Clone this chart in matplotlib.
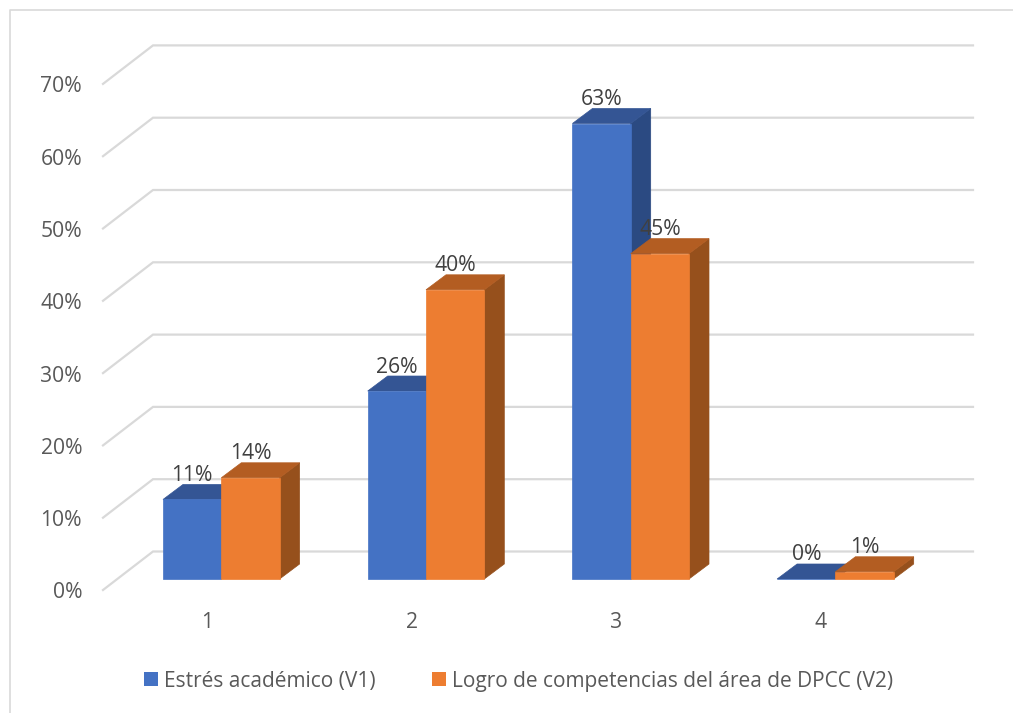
import matplotlib
matplotlib.use("Agg")
import matplotlib.pyplot as plt
from matplotlib.patches import Polygon, Patch
from matplotlib.lines import Line2D

categories = [1, 2, 3, 4]
series_names = ["Estrés académico (V1)", "Logro de competencias del área de DPCC (V2)"]
v1 = [11, 26, 63, 0]
v2 = [14, 40, 45, 1]
y_ticks = [0, 10, 20, 30, 40, 50, 60, 70]

W, H = 1013, 713
PX_X = 204.7      # pixels per category
PX_Y = 7.23       # pixels per percent
X0, Y0 = 221.3, 579.0  # pixel of category 1 centre / bar base
FS = 15.2

plt.rcParams['font.family'] = ['Open Sans', 'DejaVu Sans']
fig = plt.figure(figsize=(W / 100, H / 100), dpi=100, facecolor='white')
ax = fig.add_axes([0, 0, 1, 1])
ax.set_xlim(1 + (0 - X0) / PX_X, 1 + (W - X0) / PX_X)
ax.set_ylim((Y0 - H) / PX_Y, (Y0 - 0) / PX_Y)
ax.axis('off')

dxb, dyb = 20 / PX_X, 15 / PX_Y       # bar depth
bw = 58.3 / PX_X                      # bar width
wall_l = 1 + (103 - X0) / PX_X
wall_b = 1 + (153 - X0) / PX_X
wall_r = 1 + (973 - X0) / PX_X
front_off = (Y0 - 590) / PX_Y
back_off = (Y0 - 551.5) / PX_Y
label_off = (Y0 - 593) / PX_Y

GRID = '#D9D9D9'
TXT = '#595959'
for t in y_ticks:
    ax.plot([wall_l, wall_b, wall_r], [t + front_off, t + back_off, t + back_off],
            color=GRID, lw=1.6, solid_joinstyle='miter', zorder=1)
    ax.text(1 + (82 - X0) / PX_X, t + label_off, f"{t}%", ha='right', va='center',
            fontsize=FS, color=TXT, zorder=5)


def bar3d(x0, val, front, top, side, z):
    x1 = x0 + bw
    ax.add_patch(Polygon([(x1, 0), (x1 + dxb, dyb), (x1 + dxb, val + dyb), (x1, val)],
                         fc=side, ec=side, lw=0.5, zorder=z))
    ax.add_patch(Polygon([(x0, val), (x1, val), (x1 + dxb, val + dyb), (x0 + dxb, val + dyb)],
                         fc=top, ec=top, lw=0.5, zorder=z))
    ax.add_patch(Polygon([(x0, 0), (x1, 0), (x1, val), (x0, val)],
                         fc=front, ec=front, lw=0.5, zorder=z + 0.1))
    ax.text(x0 + bw / 2, val + dyb + 9 / PX_Y, f"{val}%", ha='center', va='center',
            fontsize=FS, color='#404040', zorder=6)


for c, a, b in zip(categories, v1, v2):
    bar3d(c - bw, a, '#4472C4', '#345594', '#2B4A82', 2)
    bar3d(c, b, '#ED7D31', '#B35D22', '#96501C', 3)
    ax.text(c - 14.5 / PX_X, (Y0 - 622.5) / PX_Y, str(c), ha='center', va='center',
            fontsize=FS, color=TXT, zorder=5)

handles = [Patch(fc='#4472C4', ec='none'), Patch(fc='#ED7D31', ec='none')]
ax.legend(handles, series_names, loc='center', ncol=2, frameon=False, fontsize=15.05,
          labelcolor=TXT, handlelength=0.67, handleheight=0.67, handletextpad=0.29,
          columnspacing=2.7, borderpad=0, borderaxespad=0,
          bbox_to_anchor=(518.5 / W, 1 - 681 / H), bbox_transform=fig.transFigure)

fig.add_artist(Line2D([9.5 / W, 9.5 / W, 1], [0, 1 - 9.5 / H, 1 - 9.5 / H],
                      color=GRID, lw=1.2, transform=fig.transFigure))
fig.savefig('out.png', dpi=100)
